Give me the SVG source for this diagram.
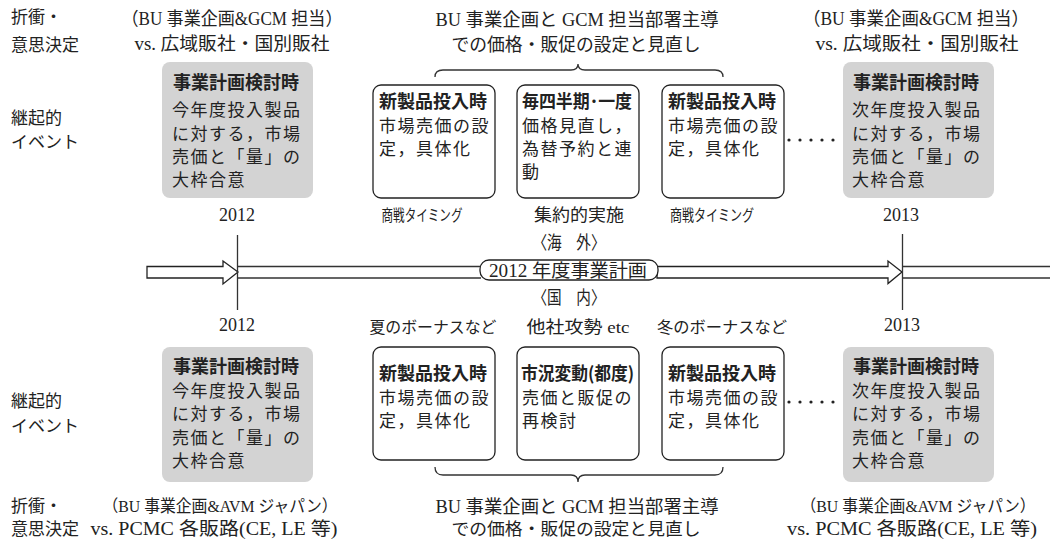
<svg xmlns="http://www.w3.org/2000/svg" width="1050" height="539" viewBox="0 0 1050 539">
<style>
text{dominant-baseline:central;fill:#222}
.s{font-family:"Liberation Serif","Noto Sans CJK JP",serif;font-size:18px;text-anchor:middle}
.l{font-family:"Liberation Serif","Noto Sans CJK JP",serif;font-size:17px}
.sm{font-family:"Liberation Serif","Noto Sans CJK JP",serif;font-size:15.5px;text-anchor:middle}
.y{font-family:"Liberation Serif",serif;font-size:18px;text-anchor:middle}
.t{font-family:"Noto Sans CJK JP",sans-serif;font-size:18px;font-weight:bold}
.b{font-family:"Noto Sans CJK JP",sans-serif;font-size:17px;letter-spacing:1.5px}
.g{fill:#d3d3d3;stroke:none}
.w{fill:#fff;stroke:#222;stroke-width:1.3}
.ln{fill:none;stroke:#333;stroke-width:1.3}
.dot{fill:#222}
</style>

<g id="labels-left">
<text class="l" x="11" y="17">折衝・</text>
<text class="l" x="11" y="45">意思決定</text>
<text class="l" x="11" y="118">継起的</text>
<text class="l" x="11" y="142">イベント</text>
<text class="l" x="11" y="401">継起的</text>
<text class="l" x="11" y="426">イベント</text>
<text class="l" x="11" y="506">折衝・</text>
<text class="l" x="11" y="529">意思決定</text>
</g>

<g id="negotiation-top">
<text class="s" x="232" y="19" textLength="221" lengthAdjust="spacingAndGlyphs">（BU 事業企画&amp;GCM 担当）</text>
<text class="s" x="232" y="44" textLength="195" lengthAdjust="spacingAndGlyphs">vs. 広域販社・国別販社</text>
<text class="s" x="577" y="20" textLength="283" lengthAdjust="spacingAndGlyphs">BU 事業企画と GCM 担当部署主導</text>
<text class="s" x="576" y="45" textLength="249" lengthAdjust="spacingAndGlyphs">での価格・販促の設定と見直し</text>
<text class="s" x="916" y="19" textLength="226" lengthAdjust="spacingAndGlyphs">（BU 事業企画&amp;GCM 担当）</text>
<text class="s" x="917" y="44" textLength="203" lengthAdjust="spacingAndGlyphs">vs. 広域販社・国別販社</text>
</g>

<g id="negotiation-bottom">
<text class="s" x="220" y="506" textLength="235" lengthAdjust="spacingAndGlyphs" style="font-size:16.5px">（BU 事業企画&amp;AVM ジャパン）</text>
<text class="s" x="214" y="529" textLength="247" lengthAdjust="spacingAndGlyphs">vs. PCMC 各販路(CE, LE 等)</text>
<text class="s" x="577" y="507" textLength="283" lengthAdjust="spacingAndGlyphs">BU 事業企画と GCM 担当部署主導</text>
<text class="s" x="576" y="529" textLength="249" lengthAdjust="spacingAndGlyphs" style="font-size:17px">での価格・販促の設定と見直し</text>
<text class="s" x="918" y="506" textLength="235" lengthAdjust="spacingAndGlyphs" style="font-size:16.5px">（BU 事業企画&amp;AVM ジャパン）</text>
<text class="s" x="912" y="529" textLength="250" lengthAdjust="spacingAndGlyphs">vs. PCMC 各販路(CE, LE 等)</text>
</g>

<g id="node-top-plan-2012">
<rect class="g" x="162" y="62" width="151" height="136" rx="8"/>
<text class="t" x="173" y="81">事業計画検討時</text>
<text class="b" x="172" y="108">今年度投入製品</text>
<text class="b" x="172" y="132">に対する，市場</text>
<text class="b" x="172" y="155">売価と「量」の</text>
<text class="b" x="172" y="178">大枠合意</text>
</g>

<g id="node-top-new1">
<rect class="w" x="373" y="85" width="122" height="113" rx="8"/>
<text class="t" x="379" y="100">新製品投入時</text>
<text class="b" x="379" y="124">市場売価の設</text>
<text class="b" x="379" y="147">定，具体化</text>
</g>

<g id="node-top-quarter">
<rect class="w" x="517" y="85" width="122" height="113" rx="8"/>
<text class="t" x="522" y="100" textLength="110" lengthAdjust="spacingAndGlyphs">毎四半期･一度</text>
<text class="b" x="522" y="124">価格見直し，</text>
<text class="b" x="522" y="147">為替予約と連</text>
<text class="b" x="522" y="170">動</text>
</g>

<g id="node-top-new2">
<rect class="w" x="662" y="85" width="122" height="113" rx="8"/>
<text class="t" x="668" y="100">新製品投入時</text>
<text class="b" x="668" y="124">市場売価の設</text>
<text class="b" x="668" y="147">定，具体化</text>
</g>

<g id="node-top-plan-2013">
<rect class="g" x="843" y="62" width="151" height="136" rx="8"/>
<text class="t" x="853" y="81">事業計画検討時</text>
<text class="b" x="852" y="108">次年度投入製品</text>
<text class="b" x="852" y="132">に対する，市場</text>
<text class="b" x="852" y="155">売価と「量」の</text>
<text class="b" x="852" y="178">大枠合意</text>
</g>

<g id="timing-top">
<text class="y" x="237" y="215">2012</text>
<text class="sm" x="422" y="215" textLength="81" lengthAdjust="spacingAndGlyphs">商戦タイミング</text>
<text class="sm" x="579" y="215" textLength="90" lengthAdjust="spacingAndGlyphs" style="font-size:17px">集約的実施</text>
<text class="sm" x="712" y="215" textLength="84" lengthAdjust="spacingAndGlyphs">商戦タイミング</text>
<text class="y" x="901" y="215">2013</text>
</g>

<g id="node-bottom-plan-2012">
<rect class="g" x="162" y="347" width="151" height="135" rx="8"/>
<text class="t" x="173" y="365">事業計画検討時</text>
<text class="b" x="172" y="389">今年度投入製品</text>
<text class="b" x="172" y="412">に対する，市場</text>
<text class="b" x="172" y="436">売価と「量」の</text>
<text class="b" x="172" y="459">大枠合意</text>
</g>

<g id="node-bottom-new1">
<rect class="w" x="373" y="347" width="122" height="113" rx="8"/>
<text class="t" x="379" y="372">新製品投入時</text>
<text class="b" x="379" y="396">市場売価の設</text>
<text class="b" x="379" y="419">定，具体化</text>
</g>

<g id="node-bottom-market">
<rect class="w" x="517" y="347" width="122" height="113" rx="8"/>
<text class="t" x="521" y="372" textLength="113" lengthAdjust="spacingAndGlyphs">市況変動(都度)</text>
<text class="b" x="522" y="396">売価と販促の</text>
<text class="b" x="522" y="419">再検討</text>
</g>

<g id="node-bottom-new2">
<rect class="w" x="662" y="347" width="122" height="113" rx="8"/>
<text class="t" x="668" y="372">新製品投入時</text>
<text class="b" x="668" y="396">市場売価の設</text>
<text class="b" x="668" y="419">定，具体化</text>
</g>

<g id="node-bottom-plan-2013">
<rect class="g" x="843" y="347" width="151" height="135" rx="8"/>
<text class="t" x="853" y="365">事業計画検討時</text>
<text class="b" x="852" y="389">次年度投入製品</text>
<text class="b" x="852" y="412">に対する，市場</text>
<text class="b" x="852" y="436">売価と「量」の</text>
<text class="b" x="852" y="459">大枠合意</text>
</g>

<g id="timing-bottom">
<text class="y" x="237" y="325">2012</text>
<text class="sm" x="433" y="327" textLength="127" lengthAdjust="spacingAndGlyphs" style="font-size:16px">夏のボーナスなど</text>
<text class="sm" x="578" y="327" textLength="103" lengthAdjust="spacingAndGlyphs" style="font-size:17px">他社攻勢 etc</text>
<text class="sm" x="722" y="327" textLength="130" lengthAdjust="spacingAndGlyphs" style="font-size:16px">冬のボーナスなど</text>
<text class="y" x="902" y="325">2013</text>
</g>

<g id="timeline">
<path class="w" d="M147,266.5 L223,266.5 L223,261 L238,272 L223,284 L223,278 L147,278 Z"/>
<path class="ln" d="M238,266.5 H481 M238,278 H481"/>
<path class="w" d="M657,266.5 L888,266.5 L888,261 L902,272 L888,283.5 L888,278 L657,278 Z"/>
<path class="ln" d="M902,266.5 H1050 M902,278 H1050"/>
<path class="ln" d="M237.5,235 V310 M902.5,234 V310"/>
<rect class="w" x="480" y="260" width="178" height="20" rx="9"/>
<text class="s" x="568" y="271" textLength="158" lengthAdjust="spacingAndGlyphs">2012 年度事業計画</text>
<text class="s" x="569" y="243" textLength="73" lengthAdjust="spacingAndGlyphs">〈海　外〉</text>
<text class="s" x="569" y="298" textLength="73" lengthAdjust="spacingAndGlyphs">〈国　内〉</text>
</g>

<g id="connectors">
<path class="ln" d="M435,77 Q435,70 443,70 L571,70 Q578,70 578,64 Q578,70 585,70 L715,70 Q723,70 723,77"/>
<path class="ln" d="M435,467 Q435,475 443,475 L571,475 Q578,475 578,482 Q578,475 585,475 L715,475 Q723,475 723,467"/>
<g class="dot">
<circle cx="789" cy="140" r="1.6"/><circle cx="800" cy="140" r="1.6"/><circle cx="811" cy="140" r="1.6"/><circle cx="822" cy="140" r="1.6"/><circle cx="833" cy="140" r="1.6"/>
<circle cx="789" cy="402" r="1.6"/><circle cx="800" cy="402" r="1.6"/><circle cx="811" cy="402" r="1.6"/><circle cx="822" cy="402" r="1.6"/><circle cx="833" cy="402" r="1.6"/>
</g>
</g>
</svg>
